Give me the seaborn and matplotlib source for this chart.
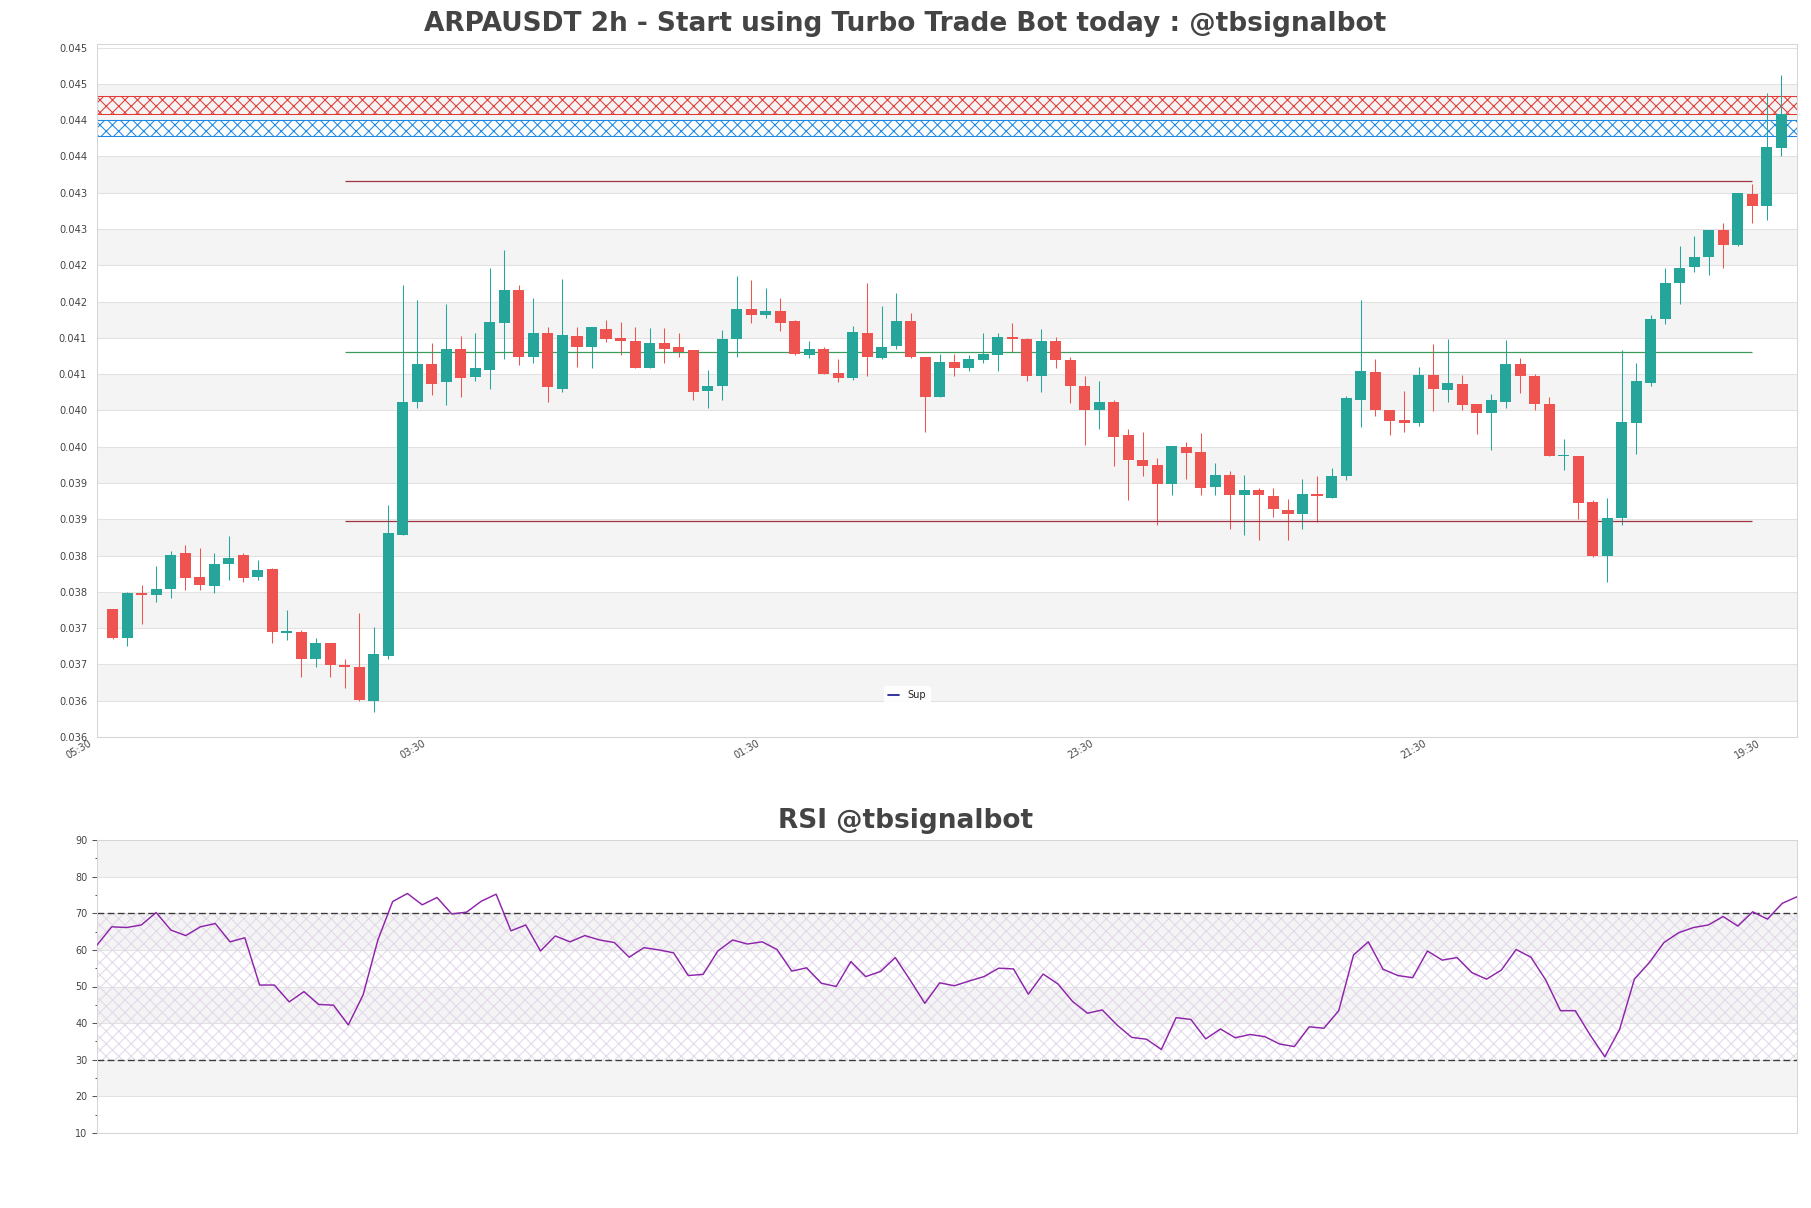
import numpy as np
import pandas as pd
import matplotlib
matplotlib.use("Agg")
import matplotlib.pyplot as plt
import seaborn as sns
from matplotlib.lines import Line2D
from matplotlib.transforms import ScaledTranslation

# ---------------- data ----------------
opens = [0.03777, 0.03737, 0.03799, 0.03795, 0.03804, 0.03853, 0.03821, 0.03808, 0.03838, 0.03851,
         0.03820, 0.03832, 0.03743, 0.03745, 0.03708, 0.03730, 0.03699, 0.03697, 0.03650, 0.03712,
         0.03879, 0.04061, 0.04114, 0.04089, 0.04135, 0.04096, 0.04106, 0.04171, 0.04216, 0.04124,
         0.04157, 0.04080, 0.04153, 0.04138, 0.04162, 0.04150, 0.04146, 0.04109, 0.04143, 0.04137,
         0.04133, 0.04077, 0.04083, 0.04149, 0.04190, 0.04182, 0.04187, 0.04173, 0.04127, 0.04135,
         0.04102, 0.04094, 0.04157, 0.04122, 0.04139, 0.04173, 0.04124, 0.04068, 0.04117, 0.04109,
         0.04120, 0.04127, 0.04151, 0.04149, 0.04098, 0.04145, 0.04120, 0.04084, 0.04050, 0.04061,
         0.04016, 0.03982, 0.03975, 0.03948, 0.04000, 0.03993, 0.03945, 0.03961, 0.03934, 0.03941,
         0.03932, 0.03913, 0.03907, 0.03935, 0.03930, 0.03959, 0.04065, 0.04103, 0.04050, 0.04037,
         0.04032, 0.04099, 0.04078, 0.04087, 0.04059, 0.04046, 0.04062, 0.04114, 0.04098, 0.04059,
         0.03987, 0.03987, 0.03924, 0.03849, 0.03902, 0.04033, 0.04088, 0.04176, 0.04225, 0.04247,
         0.04261, 0.04299, 0.04278, 0.04348, 0.04332, 0.04412]
highs = [0.03777, 0.03800, 0.03810, 0.03836, 0.03856, 0.03865, 0.03861, 0.03853, 0.03877, 0.03853,
         0.03844, 0.03833, 0.03775, 0.03748, 0.03737, 0.03730, 0.03707, 0.03771, 0.03752, 0.03920,
         0.04223, 0.04202, 0.04143, 0.04197, 0.04153, 0.04157, 0.04246, 0.04271, 0.04223, 0.04205,
         0.04165, 0.04231, 0.04165, 0.04165, 0.04175, 0.04172, 0.04165, 0.04164, 0.04164, 0.04157,
         0.04133, 0.04106, 0.04161, 0.04235, 0.04230, 0.04219, 0.04205, 0.04175, 0.04146, 0.04138,
         0.04121, 0.04166, 0.04226, 0.04194, 0.04212, 0.04184, 0.04124, 0.04128, 0.04128, 0.04127,
         0.04156, 0.04157, 0.04171, 0.04150, 0.04162, 0.04151, 0.04124, 0.04097, 0.04090, 0.04065,
         0.04025, 0.04020, 0.03984, 0.04001, 0.04007, 0.04019, 0.03978, 0.03967, 0.03961, 0.03943,
         0.03943, 0.03928, 0.03956, 0.03960, 0.03971, 0.04070, 0.04202, 0.04121, 0.04050, 0.04077,
         0.04110, 0.04142, 0.04149, 0.04099, 0.04059, 0.04072, 0.04147, 0.04122, 0.04100, 0.04068,
         0.04011, 0.03987, 0.03926, 0.03930, 0.04133, 0.04115, 0.04182, 0.04246, 0.04276, 0.04290,
         0.04299, 0.04308, 0.04349, 0.04362, 0.04488, 0.04512]
lows = [0.03735, 0.03726, 0.03756, 0.03786, 0.03791, 0.03803, 0.03803, 0.03799, 0.03817, 0.03813,
        0.03816, 0.03729, 0.03733, 0.03682, 0.03696, 0.03682, 0.03667, 0.03650, 0.03635, 0.03707,
        0.03879, 0.04054, 0.04071, 0.04057, 0.04069, 0.04091, 0.04080, 0.04121, 0.04113, 0.04116,
        0.04062, 0.04076, 0.04110, 0.04109, 0.04144, 0.04126, 0.04108, 0.04109, 0.04116, 0.04124,
        0.04065, 0.04054, 0.04065, 0.04123, 0.04171, 0.04177, 0.04160, 0.04126, 0.04122, 0.04100,
        0.04089, 0.04092, 0.04097, 0.04121, 0.04134, 0.04122, 0.04020, 0.04068, 0.04097, 0.04105,
        0.04116, 0.04105, 0.04131, 0.04090, 0.04076, 0.04109, 0.04060, 0.04003, 0.04025, 0.03974,
        0.03927, 0.03959, 0.03892, 0.03934, 0.03956, 0.03934, 0.03934, 0.03886, 0.03879, 0.03871,
        0.03903, 0.03871, 0.03887, 0.03896, 0.03930, 0.03954, 0.04027, 0.04042, 0.04016, 0.04020,
        0.04028, 0.04049, 0.04061, 0.04050, 0.04018, 0.03995, 0.04054, 0.04074, 0.04050, 0.03987,
        0.03968, 0.03901, 0.03848, 0.03814, 0.03892, 0.03990, 0.04083, 0.04169, 0.04196, 0.04241,
        0.04237, 0.04246, 0.04277, 0.04308, 0.04313, 0.04401]
closes = [0.03737, 0.03799, 0.03795, 0.03804, 0.03851, 0.03819, 0.03810, 0.03839, 0.03847, 0.03819,
          0.03830, 0.03744, 0.03746, 0.03708, 0.03730, 0.03699, 0.03696, 0.03651, 0.03715, 0.03881,
          0.04061, 0.04114, 0.04087, 0.04135, 0.04094, 0.04109, 0.04172, 0.04216, 0.04124, 0.04157,
          0.04082, 0.04154, 0.04138, 0.04165, 0.04149, 0.04145, 0.04109, 0.04143, 0.04135, 0.04131,
          0.04076, 0.04083, 0.04149, 0.04190, 0.04182, 0.04187, 0.04171, 0.04128, 0.04135, 0.04100,
          0.04094, 0.04158, 0.04123, 0.04137, 0.04173, 0.04123, 0.04068, 0.04117, 0.04109, 0.04121,
          0.04128, 0.04151, 0.04149, 0.04098, 0.04145, 0.04119, 0.04083, 0.04050, 0.04061, 0.04014,
          0.03982, 0.03974, 0.03948, 0.04001, 0.03992, 0.03943, 0.03961, 0.03934, 0.03941, 0.03933,
          0.03914, 0.03907, 0.03935, 0.03932, 0.03959, 0.04067, 0.04105, 0.04050, 0.04036, 0.04032,
          0.04099, 0.04079, 0.04088, 0.04058, 0.04046, 0.04065, 0.04114, 0.04097, 0.04059, 0.03987,
          0.03988, 0.03923, 0.03849, 0.03902, 0.04034, 0.04090, 0.04176, 0.04225, 0.04246, 0.04262,
          0.04299, 0.04278, 0.04349, 0.04332, 0.04413, 0.04459]

rsi = [61.3, 66.3, 66.1, 66.8, 70.2, 65.4, 63.9, 66.3, 67.2, 62.2,
       63.3, 50.4, 50.4, 45.8, 48.6, 45.1, 44.9, 39.5, 47.7, 62.7,
       73.2, 75.4, 72.3, 74.3, 69.8, 70.3, 73.3, 75.2, 65.2, 66.8,
       59.7, 63.8, 62.2, 63.9, 62.7, 62.0, 58.0, 60.6, 60.0, 59.2,
       53.0, 53.3, 59.7, 62.7, 61.6, 62.2, 60.1, 54.2, 55.1, 50.9,
       50.0, 56.8, 52.7, 54.1, 57.9, 51.8, 45.4, 51.0, 50.2, 51.5,
       52.7, 55.0, 54.8, 47.9, 53.4, 50.7, 45.9, 42.7, 43.6, 39.5,
       36.1, 35.6, 32.8, 41.5, 41.0, 35.7, 38.4, 36.0, 36.9, 36.3,
       34.3, 33.6, 39.0, 38.6, 43.4, 58.6, 62.2, 54.7, 53.0, 52.4,
       59.7, 57.2, 57.9, 53.8, 52.0, 54.5, 60.1, 58.0, 51.8, 43.4,
       43.4, 36.8, 30.8, 38.3, 52.0, 56.5, 62.0, 64.7, 66.1, 66.8,
       69.1, 66.5, 70.4, 68.4, 72.7, 74.5]

# support / resistance levels (value, first candle, last candle)
level_values = [0.04366, 0.04130, 0.03897]
level_start = [16, 16, 16]
level_end = [113, 113, 113]
level_colors = ["#9e3344", "#3d9c5c", "#9e3344"]

# hatched zones (low, high)
zone_low = [0.04459, 0.04428]
zone_high = [0.04483, 0.04450]
zone_colors = ["#e53935", "#1e88e5"]

xtick_pos = [0, 23, 46, 69, 92, 115]
xtick_labels = ["05:30", "03:30", "01:30", "23:30", "21:30", "19:30"]
ytick_vals = [0.0360 + 0.0005 * k for k in range(20)]
ytick_labels = ["0.036", "0.036", "0.037", "0.037", "0.038", "0.038", "0.039", "0.039",
                "0.040", "0.040", "0.041", "0.041", "0.042", "0.042", "0.043", "0.043",
                "0.044", "0.044", "0.045", "0.045"]

title_main = "ARPAUSDT 2h - Start using Turbo Trade Bot today : @tbsignalbot"
title_rsi = "RSI @tbsignalbot"

df = pd.DataFrame({"open": opens, "high": highs, "low": lows, "close": closes})
df["idx"] = np.arange(len(df))
rsi_df = pd.DataFrame({"idx": np.arange(len(rsi)), "rsi": rsi})

# ---------------- style ----------------
DPI = 75
sns.set_theme(style="white")
plt.rcParams["font.family"] = ["DejaVu Sans"]
plt.rcParams["hatch.linewidth"] = 1.0
TXT = "#444444"
SPINE = "#d6d6d6"
GRID = "#e2e2e2"
BAND = "#f4f4f4"
UP = "#26a69a"
DOWN = "#ef5350"

fig = plt.figure(figsize=(1811 / DPI, 1208 / DPI), dpi=DPI)
fig.patch.set_facecolor("white")
ax = fig.add_axes([97 / 1811, 1 - 737 / 1208, 1700 / 1811, 693.5 / 1208])
ax2 = fig.add_axes([97 / 1811, 1 - 1133 / 1208, 1700 / 1811, 293 / 1208])

# ---------------- main chart ----------------
n = len(df)
ax.set_xlim(-1.08, n + 0.08)
ax.set_ylim(0.03600, 0.045556)

# alternating bands
for k in range(len(ytick_vals) - 1):
    if k % 2 == 1:
        ax.axhspan(ytick_vals[k], ytick_vals[k + 1], color=BAND, lw=0, zorder=0)
for v in ytick_vals:
    ax.axhline(v, color=GRID, lw=1.0, zorder=0.5)

up = df["close"] >= df["open"]
colors = np.where(up, UP, DOWN)
body_low = np.minimum(df["open"], df["close"])
body_h = np.maximum(np.abs(df["close"] - df["open"]), 0.000012)
ax.vlines(df["idx"], df["low"], df["high"], colors=colors, lw=1.0, zorder=2)
ax.bar(df["idx"], body_h, bottom=body_low, width=0.76, color=colors, lw=0, zorder=3)

for v, s, e, c in zip(level_values, level_start, level_end, level_colors):
    ax.hlines(v, s, e, colors=c, lw=1.2, zorder=2.5)

for lo, hi, c in zip(zone_low, zone_high, zone_colors):
    ax.axhspan(lo, hi, facecolor="none", edgecolor=c, hatch="xx", lw=1.0, zorder=1.5)

ax.set_yticks(ytick_vals)
ax.set_yticklabels(ytick_labels)
ax.set_xticks(xtick_pos)
ax.set_xticklabels(xtick_labels, rotation=30, ha="right")
ax.tick_params(axis="y", length=0, pad=9.6, labelsize=9.5, labelcolor=TXT)
ax.tick_params(axis="x", length=0, pad=1, labelsize=9.2, labelcolor=TXT)
for lab in ax.get_xticklabels():
    lab.set_transform(lab.get_transform() + ScaledTranslation(-19 / DPI, 0, fig.dpi_scale_trans))
for sp in ax.spines.values():
    sp.set_color(SPINE)
    sp.set_linewidth(1.0)
ax.set_title(title_main, x=(905.5 - 97) / 1700, pad=12, fontsize=25.3,
             fontweight="bold", color=TXT)

sup_handle = Line2D([], [], color="#10108a", lw=1.6)
leg = ax.legend([sup_handle], ["Sup"], loc="center",
                bbox_to_anchor=(907 / 1811, 1 - 695 / 1208), bbox_transform=fig.transFigure,
                fontsize=9.4, handlelength=1.1, frameon=True, framealpha=0.9,
                edgecolor="white", fancybox=True, borderpad=0.45)
for t in leg.get_texts():
    t.set_color("#222222")

# ---------------- RSI ----------------
ax2.set_xlim(0, len(rsi) - 1)
ax2.set_ylim(10, 90)
for lo in [20, 40, 60, 80]:
    ax2.axhspan(lo, lo + 10, color=BAND, lw=0, zorder=0)
for v in range(10, 91, 10):
    ax2.axhline(v, color=GRID, lw=1.0, zorder=0.5)
ax2.fill_between([0, len(rsi) - 1], 30, 70, facecolor="none", edgecolor="#e2d8ea",
                 hatch="xx", lw=0, zorder=0.8)
ax2.axhline(70, color="#3a3a3a", lw=1.3, ls=(0, (5, 2.5)), zorder=1)
ax2.axhline(30, color="#3a3a3a", lw=1.3, ls=(0, (5, 2.5)), zorder=1)
sns.lineplot(data=rsi_df, x="idx", y="rsi", ax=ax2, color="#8e24aa", lw=1.4, zorder=3)
ax2.set_xlabel("")
ax2.set_ylabel("")
ax2.set_xticks([])
ax2.set_yticks(range(10, 91, 10))
ax2.set_yticks(range(15, 90, 10), minor=True)
ax2.tick_params(axis="y", which="major", length=4.8, width=1, color="#555555", pad=4.5,
                labelsize=9.2, labelcolor=TXT, left=True)
ax2.tick_params(axis="y", which="minor", length=2.4, width=1, color="#555555", left=True)
for sp in ax2.spines.values():
    sp.set_color(SPINE)
    sp.set_linewidth(1.0)
ax2.set_title(title_rsi, x=(905.5 - 97) / 1700, pad=11.5, fontsize=25.3,
              fontweight="bold", color=TXT)

fig.savefig("out.png", dpi=DPI, facecolor="white")
